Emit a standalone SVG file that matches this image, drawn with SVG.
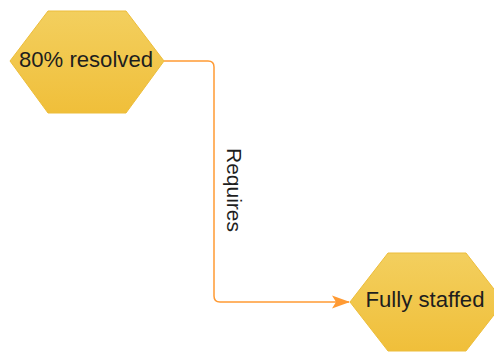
<svg xmlns="http://www.w3.org/2000/svg" width="494" height="353" viewBox="0 0 494 353">
  <defs>
    <linearGradient id="hexFill" x1="0" y1="0" x2="0" y2="1">
      <stop offset="0" stop-color="#F3CF5E"/>
      <stop offset="1" stop-color="#F0BF3A"/>
    </linearGradient>
    <marker id="arrow" viewBox="0 0 18 14" refX="17" refY="7" markerWidth="18" markerHeight="14" markerUnits="userSpaceOnUse" orient="auto">
      <path d="M0,0.5 L18,7 L0,13.5 L4,7 Z" fill="#FF9A33"/>
    </marker>
    <style>
      .hex { fill: url(#hexFill); stroke: #EDBD3A; stroke-width: 1; }
      .label { font-family: "Liberation Sans", Arial, sans-serif; font-size: 21.5px; fill: #1e1e1e; text-anchor: middle; dominant-baseline: central; }
      .edge { fill: none; stroke: #FF9A33; stroke-width: 1.5; }
      .edge-label { font-family: "Liberation Sans", Arial, sans-serif; font-size: 21px; fill: #1e1e1e; text-anchor: middle; dominant-baseline: central; }
    </style>
  </defs>

  <g id="connectors">
    <path class="edge" d="M164,61 H208 Q214,61 214,67 V296 Q214,302 220,302 H349" marker-end="url(#arrow)"/>
    <text class="edge-label" transform="translate(234,190) rotate(90)">Requires</text>
  </g>

  <g id="node-resolved">
    <polygon class="hex" points="48,11 126,11 164,61 126,113 48,113 10,61"/>
    <text class="label" x="86" y="60" textLength="134" lengthAdjust="spacingAndGlyphs">80% resolved</text>
  </g>

  <g id="node-staffed">
    <polygon class="hex" points="388,253 466,253 504,302 466,351 388,351 350,302"/>
    <text class="label" x="425" y="300" textLength="119" lengthAdjust="spacingAndGlyphs">Fully staffed</text>
  </g>
</svg>
